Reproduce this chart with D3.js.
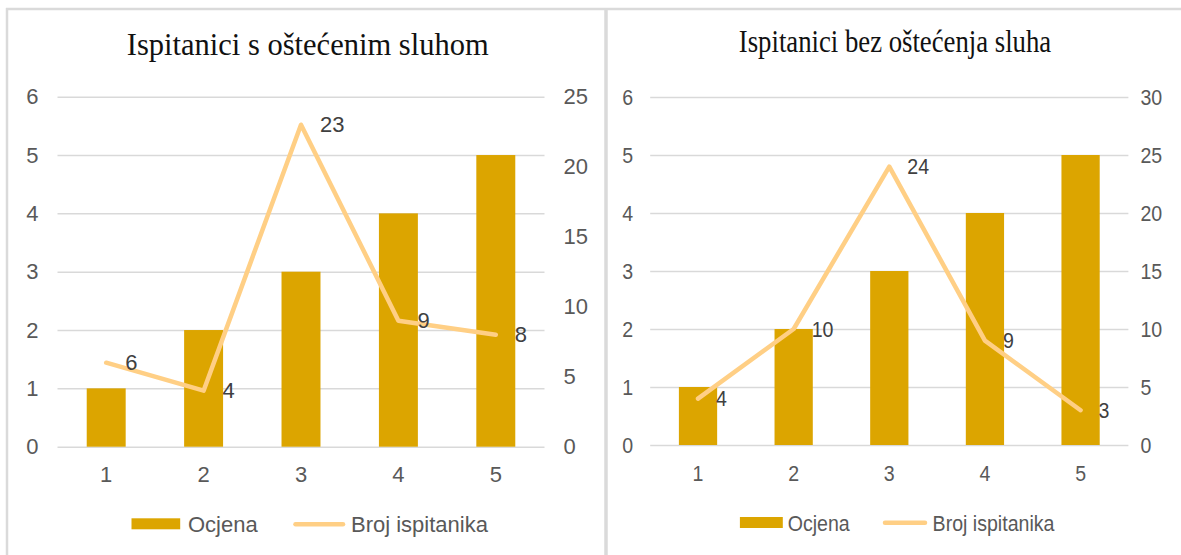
<!DOCTYPE html>
<html>
<head>
<meta charset="utf-8">
<script src="https://cdn.jsdelivr.net/npm/d3@7"></script>
<style>
  html, body { margin: 0; padding: 0; background: #fff; }
  svg { display: block; }
</style>
</head>
<body>
<svg id="chart" width="1181" height="555"></svg>
<script>
// ---- data ----
const categories = ["1", "2", "3", "4", "5"];
const titleLeft = "Ispitanici s oštećenim sluhom";
const titleRight = "Ispitanici bez oštećenja sluha";
const ocjenaLeft = [1, 2, 3, 4, 5];
const brojLeft = [6, 4, 23, 9, 8];
const ocjenaRight = [1, 2, 3, 4, 5];
const brojRight = [4, 10, 24, 9, 3];
const leftAxisTicks = [0, 1, 2, 3, 4, 5, 6];
const rightAxisTicksLeftPanel = [0, 5, 10, 15, 20, 25];
const rightAxisTicksRightPanel = [0, 5, 10, 15, 20, 25, 30];
const legendBar = "Ocjena";
const legendLine = "Broj ispitanika";

// ---- style ----
const barColor = "#DCA500";
const lineColor = "#FFCF85";
const gridColor = "#d9d9d9";
const tickColor = "#595959";
const labelColor = "#404040";
const borderColor = "#dadada";
const sansFont = "'Liberation Sans', Arial, sans-serif";
const serifFont = "'Liberation Serif', 'Times New Roman', serif";
const fs = 22;

const svg = d3.select("#chart");

// borders
svg.append("line").attr("x1", 6).attr("x2", 1181).attr("y1", 9).attr("y2", 9)
  .attr("stroke", borderColor).attr("stroke-width", 2.5);
svg.append("line").attr("x1", 7).attr("x2", 7).attr("y1", 8).attr("y2", 555)
  .attr("stroke", borderColor).attr("stroke-width", 2.5);
svg.append("line").attr("x1", 606).attr("x2", 606).attr("y1", 8).attr("y2", 555)
  .attr("stroke", borderColor).attr("stroke-width", 3.5);

function squeeze(sel, sx) {
  sel.each(function () {
    const t = d3.select(this);
    const x = +t.attr("x") || 0;
    t.attr("x", x / sx).attr("transform", `scale(${sx},1)`);
  });
}

function drawPanel(cfg) {
  const g = svg.append("g");
  const x = d3.scaleBand().domain(categories).range([cfg.x0, cfg.x1])
    .paddingInner(0.6).paddingOuter(0.3);
  const y = d3.scaleLinear().domain([0, 6]).range([cfg.yZero, cfg.yTop]);
  const y2 = d3.scaleLinear().domain([0, cfg.y2Max]).range([cfg.yZero, cfg.yTop]);
  const w = cfg.x1 - cfg.x0;

  // title
  g.append("text")
    .attr("font-family", serifFont).attr("font-size", 31).attr("fill", "#111")
    .attr("text-anchor", "middle").attr("x", 0).attr("y", 0)
    .attr("transform", `translate(${cfg.titleX},${cfg.titleY}) scale(${cfg.titleSx},1)`)
    .text(cfg.title);

  // left axis with gridlines
  const ga = g.append("g").attr("transform", `translate(${cfg.x0},0)`)
    .call(d3.axisLeft(y).tickValues(leftAxisTicks).tickSize(-w).tickPadding(cfg.leftPad).tickFormat(d3.format("d")));
  ga.select(".domain").remove();
  ga.selectAll(".tick line").attr("stroke", gridColor).attr("stroke-width", 1.5);
  ga.selectAll(".tick text").attr("font-family", sansFont).attr("font-size", fs).attr("fill", tickColor);
  squeeze(ga.selectAll(".tick text"), cfg.sx);

  // right axis
  const gr = g.append("g").attr("transform", `translate(${cfg.x1},0)`)
    .call(d3.axisRight(y2).tickValues(cfg.y2Ticks).tickSize(0).tickPadding(cfg.rightPad).tickFormat(d3.format("d")));
  gr.select(".domain").remove();
  gr.selectAll(".tick text").attr("font-family", sansFont).attr("font-size", fs).attr("fill", tickColor);
  squeeze(gr.selectAll(".tick text"), cfg.sx);

  // bottom axis
  const gb = g.append("g").attr("transform", `translate(0,${cfg.yZero})`)
    .call(d3.axisBottom(x).tickSize(0).tickPadding(20));
  gb.select(".domain").remove();
  gb.selectAll(".tick text").attr("font-family", sansFont).attr("font-size", fs).attr("fill", tickColor);
  squeeze(gb.selectAll(".tick text"), cfg.sx);

  // bars
  g.append("g").selectAll("rect").data(cfg.bars).join("rect")
    .attr("x", (d, i) => x(categories[i]))
    .attr("width", x.bandwidth())
    .attr("y", d => y(d))
    .attr("height", d => y(0) - y(d))
    .attr("fill", barColor);

  // line
  const line = d3.line()
    .x((d, i) => x(categories[i]) + x.bandwidth() / 2)
    .y(d => y2(d));
  g.append("path").datum(cfg.line)
    .attr("d", line).attr("fill", "none")
    .attr("stroke", lineColor).attr("stroke-width", 4.5)
    .attr("stroke-linejoin", "round").attr("stroke-linecap", "round");

  // data labels
  const lbl = g.append("g").selectAll("text").data(cfg.line).join("text")
    .attr("x", (d, i) => x(categories[i]) + x.bandwidth() / 2 + cfg.labelOff)
    .attr("y", d => y2(d))
    .attr("dy", "0.35em")
    .attr("font-family", sansFont).attr("font-size", fs).attr("fill", labelColor)
    .text(d => d);
  squeeze(lbl, cfg.sx);

  // legend
  const lg = g.append("g");
  lg.append("rect").attr("x", cfg.leg.rx).attr("y", cfg.leg.ry)
    .attr("width", cfg.leg.rw).attr("height", 11).attr("fill", barColor);
  const t1 = lg.append("text").attr("x", cfg.leg.t1).attr("y", cfg.leg.ty).attr("dy", "0.35em")
    .attr("font-family", sansFont).attr("font-size", fs).attr("fill", tickColor).text(legendBar);
  lg.append("line").attr("x1", cfg.leg.l1).attr("x2", cfg.leg.l2)
    .attr("y1", cfg.leg.ly).attr("y2", cfg.leg.ly)
    .attr("stroke", lineColor).attr("stroke-width", 4.5).attr("stroke-linecap", "round");
  const t2 = lg.append("text").attr("x", cfg.leg.t2).attr("y", cfg.leg.ty).attr("dy", "0.35em")
    .attr("font-family", sansFont).attr("font-size", fs).attr("fill", tickColor).text(legendLine);
  squeeze(t1, cfg.sx);
  squeeze(t2, cfg.sx);
}

drawPanel({
  title: titleLeft, titleX: 307.7, titleY: 55, titleSx: 0.985,
  x0: 57.5, x1: 544.5, yZero: 446.7, yTop: 96.7,
  y2Max: 25, y2Ticks: rightAxisTicksLeftPanel,
  bars: ocjenaLeft, line: brojLeft,
  leftPad: 19, rightPad: 19, labelOff: 19, sx: 1.0,
  leg: { rx: 131.5, ry: 518.3, rw: 48.7, t1: 188, ty: 524, l1: 295.5, l2: 343, ly: 524.3, t2: 351 }
});

drawPanel({
  title: titleRight, titleX: 895, titleY: 52, titleSx: 0.862,
  x0: 650.2, x1: 1128.4, yZero: 445, yTop: 97,
  y2Max: 30, y2Ticks: rightAxisTicksRightPanel,
  bars: ocjenaRight, line: brojRight,
  leftPad: 17, rightPad: 12, labelOff: 18, sx: 0.89,
  leg: { rx: 739.9, ry: 517, rw: 42.9, t1: 787.7, ty: 523, l1: 885, l2: 925, ly: 522.7, t2: 932.6 }
});
</script>
</body>
</html>
